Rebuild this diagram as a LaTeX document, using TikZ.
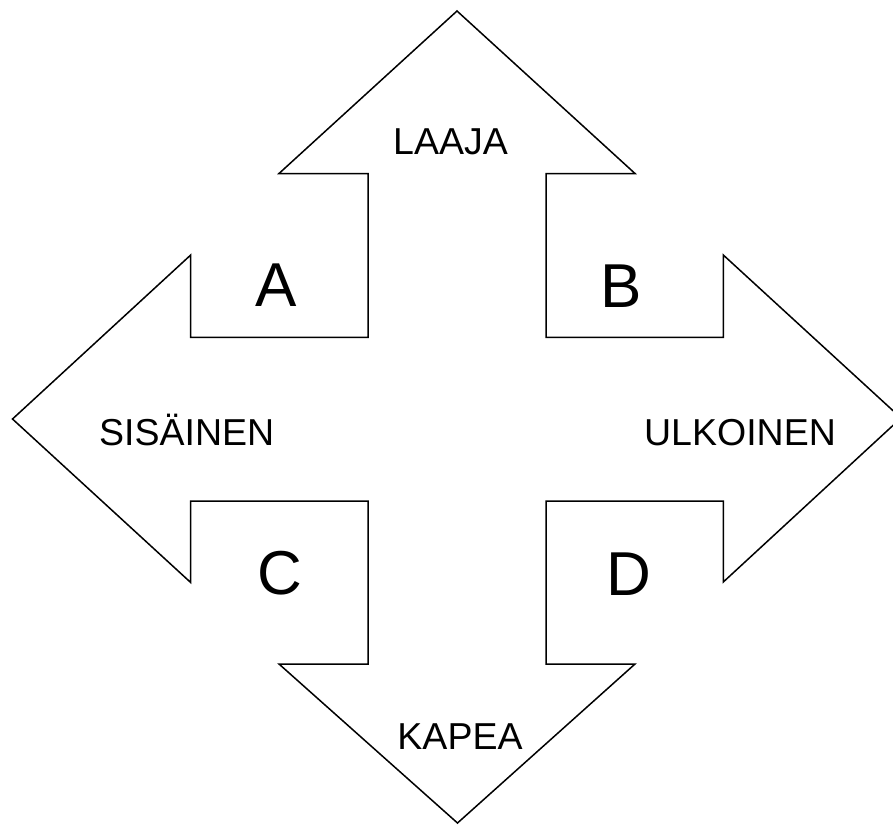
\documentclass[tikz,border=0pt]{standalone}
\usepackage{fontspec}
\setmainfont{Liberation Sans}
\tikzset{
  outline/.style={draw=black, line width=1.5pt, line join=miter, fill=white},
  dirlabel/.style={inner sep=0pt, anchor=base, font=\fontsize{37.5}{40}\selectfont},
  quadlabel/.style={inner sep=0pt, anchor=base, font=\fontsize{62}{66}\selectfont}
}
\begin{document}
\begin{tikzpicture}[x=1pt,y=-1pt]
\useasboundingbox (0,0) rectangle (893,825);
\draw[outline]
  (457,11) -- (635,173.5) -- (546,173.5) -- (546,337.3) -- (723.3,337.3) -- (723.3,255)
  -- (901,418) -- (723.3,582) -- (723.3,501) -- (546,501) -- (546,664) -- (635,664)
  -- (457.5,823) -- (279,664) -- (368,664) -- (368,501) -- (190.7,501) -- (190.7,582.5)
  -- (12.5,419) -- (190.7,255) -- (190.7,337.3) -- (368,337.3) -- (368,173.5) -- (279,173.5)
  -- cycle;
\node[dirlabel] (laaja) at (450.5,154.3) {LAAJA};
\node[dirlabel] (kapea) at (460,749.3) {KAPEA};
\node[dirlabel] (sisainen) at (186.7,445) {SISÄINEN};
\node[dirlabel] (ulkoinen) at (740,445) {ULKOINEN};
\node[quadlabel] (qa) at (276,306.7) {A};
\node[quadlabel] (qb) at (621,307) {B};
\node[quadlabel] (qc) at (280,594.5) {C};
\node[quadlabel] (qd) at (629,595) {D};
\end{tikzpicture}
\end{document}
